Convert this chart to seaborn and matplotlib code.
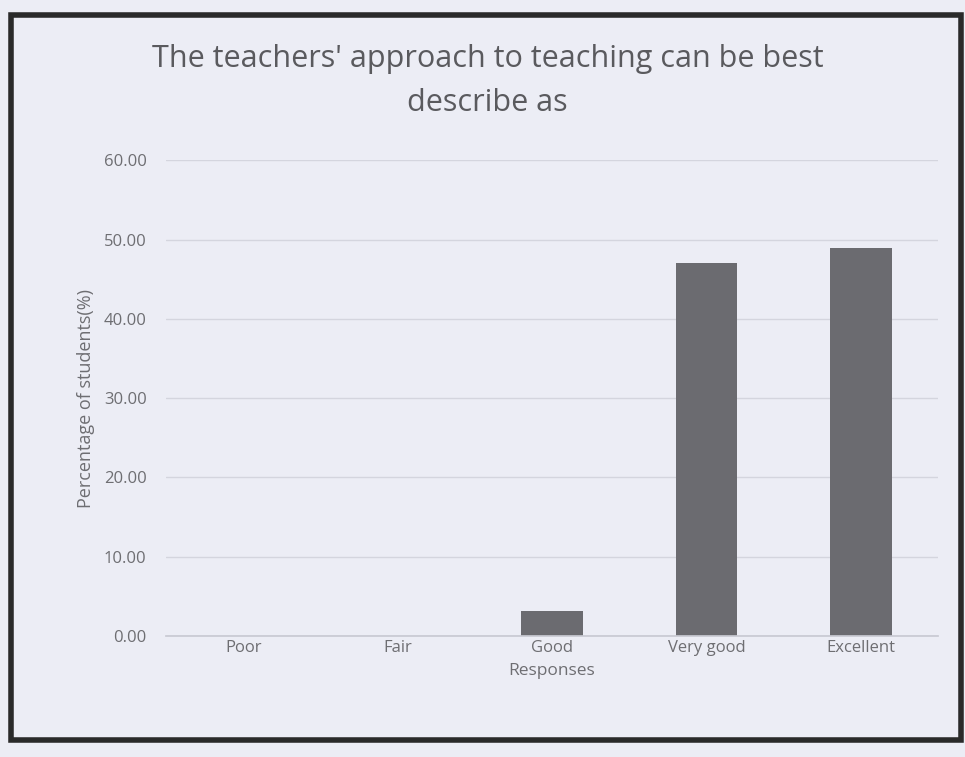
import matplotlib
matplotlib.use("Agg")
import matplotlib.pyplot as plt
import matplotlib.patches as mpatches
import seaborn as sns
import pandas as pd

# values
responses = ["Poor", "Fair", "Good", "Very good", "Excellent"]
percent = [0.0, 0.0, 3.2, 47.1, 49.0]
y_ticks = [0, 10, 20, 30, 40, 50, 60]

sns.set_theme(style="white")
plt.rcParams["font.family"] = ["Open Sans", "DejaVu Sans"]

bg = "#ecedf5"
text_col = "#6e6e72"
bar_col = "#6b6b70"

df = pd.DataFrame({"Responses": responses, "Percentage": percent})

fig = plt.figure(figsize=(9.65, 7.57), dpi=100)
fig.patch.set_facecolor(bg)

# dark frame of the scanned chart
frame = mpatches.Rectangle((0.011, 0.022), 0.985, 0.958, transform=fig.transFigure,
                           fill=False, edgecolor="#2a2a2a", linewidth=4)
fig.add_artist(frame)

ax = fig.add_axes([0.172, 0.16, 0.80, 0.628])
ax.set_facecolor(bg)

sns.barplot(data=df, x="Responses", y="Percentage", color=bar_col,
            width=0.4, saturation=1, edgecolor=bar_col, linewidth=0, ax=ax)

ax.set_ylim(0, 60)
ax.set_yticks(y_ticks)
ax.set_yticklabels([f"{v:.2f}" for v in y_ticks], color=text_col, fontsize=12)
ax.tick_params(axis="x", colors=text_col, labelsize=12, length=0, pad=3)
ax.tick_params(axis="y", length=0, pad=14)
ax.yaxis.grid(True, color="#d4d5de", linewidth=1)
ax.set_axisbelow(True)
for s in ["top", "right", "left"]:
    ax.spines[s].set_visible(False)
ax.spines["bottom"].set_color("#c9cad3")

ax.set_xlabel("Responses", color=text_col, fontsize=12.5, labelpad=5)
ax.set_ylabel("Percentage of students(%)", color=text_col, fontsize=13, labelpad=6)

fig.text(0.505, 0.893, "The teachers' approach to teaching can be best\ndescribe as",
         ha="center", va="center", fontsize=22, color="#5a5a5e", linespacing=1.6)

fig.savefig("out.png", dpi=100, facecolor=bg)
